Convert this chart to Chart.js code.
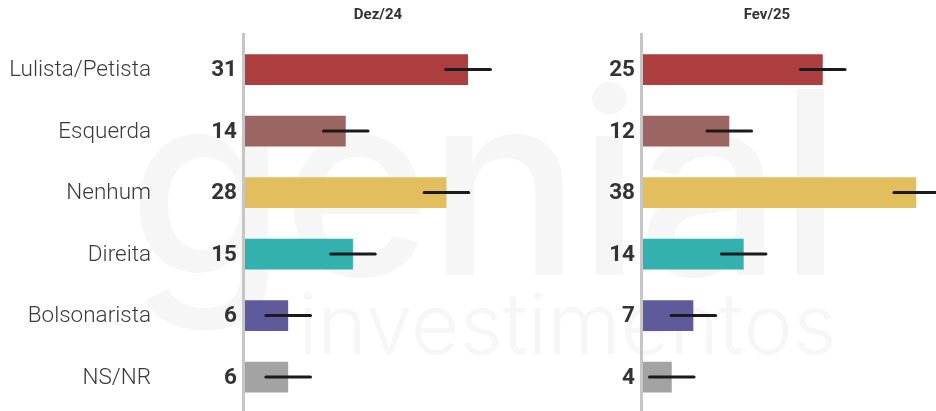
<!DOCTYPE html>
<html>
<head>
<meta charset="utf-8">
<script src="https://cdn.jsdelivr.net/npm/chart.js@4"></script>
<style>
  html, body { margin: 0; padding: 0; background: #fff; }
  #wrap { position: relative; width: 936px; height: 411px; overflow: hidden; }
  .wm { position: absolute; color: #f6f6f6; font-family: Inter, 'Open Sans', sans-serif; line-height: 1; white-space: nowrap; }
  #wm1 { left: 128px; top: 55px; font-size: 255px; font-weight: 500; letter-spacing: -4px; }
  #wm2 { left: 298px; top: 282px; font-size: 84px; font-weight: 300; }
  canvas { position: absolute; top: 0; }
  #left { left: 0; }
  #right { left: 540px; }
</style>
</head>
<body>
<div id="wrap">
  <div class="wm" id="wm1">genial</div>
  <div class="wm" id="wm2">investimentos</div>
  <canvas id="left" width="540" height="411"></canvas>
  <canvas id="right" width="396" height="411"></canvas>
</div>
<script>
const categories = ['Lulista/Petista', 'Esquerda', 'Nenhum', 'Direita', 'Bolsonarista', 'NS/NR'];
const dez24 = [31, 14, 28, 15, 6, 6];
const fev25 = [25, 12, 38, 14, 7, 4];
const margem = 3.1; // margem de erro, em pontos
const cores = ['#ac3e3f', '#9c6561', '#e3be5d', '#33b1af', '#5e5a9b', '#a3a3a3'];

// linha do eixo, categorias, rótulos de valor, barras de erro e título
const extras = {
  id: 'extras',
  beforeDatasetsDraw(chart) {
    const ctx = chart.ctx, a = chart.chartArea;
    ctx.save();
    ctx.strokeStyle = '#c6c6c6';
    ctx.lineWidth = 3;
    ctx.beginPath();
    ctx.moveTo(a.left - 1.5, 33);
    ctx.lineTo(a.left - 1.5, chart.height);
    ctx.stroke();
    ctx.restore();
  },
  afterDatasetsDraw(chart, args, opts) {
    const ctx = chart.ctx, a = chart.chartArea;
    const x = chart.scales.x, y = chart.scales.y;
    const meta = chart.getDatasetMeta(0);
    const vals = chart.data.datasets[0].data;
    ctx.save();
    meta.data.forEach((bar, i) => {
      const v = vals[i];
      ctx.strokeStyle = '#1b1b1b';
      ctx.lineWidth = 3;
      ctx.lineCap = 'round';
      ctx.beginPath();
      ctx.moveTo(x.getPixelForValue(v - margem), bar.y);
      ctx.lineTo(x.getPixelForValue(v + margem), bar.y);
      ctx.stroke();

      ctx.fillStyle = '#333';
      ctx.font = 'bold 22.5px Roboto';
      ctx.textAlign = 'right';
      ctx.textBaseline = 'middle';
      ctx.fillText(String(v), a.left - 8, bar.y + 1);

      if (opts.cats) {
        ctx.fillStyle = '#3a3a3a';
        ctx.font = '300 22.5px Roboto';
        ctx.fillText(chart.data.labels[i], 151, y.getPixelForValue(i) + 1);
      }
    });
    ctx.fillStyle = '#333';
    ctx.font = 'bold 15px Roboto';
    ctx.textAlign = 'center';
    ctx.textBaseline = 'middle';
    ctx.fillText(opts.text, a.left + opts.offset, 15);
    ctx.restore();
  }
};

function makeChart(id, values, title, titleOffset, showCats, axisWidth, xMax) {
  return new Chart(document.getElementById(id), {
    type: 'bar',
    data: {
      labels: categories,
      datasets: [{
        data: values,
        backgroundColor: cores,
        borderWidth: 0,
        barPercentage: 0.5,
        categoryPercentage: 1
      }]
    },
    options: {
      indexAxis: 'y',
      responsive: false,
      animation: false,
      layout: { padding: { top: 38.75, bottom: 3.25, left: 0, right: 0 } },
      scales: {
        x: { display: false, min: 0, max: xMax },
        y: {
          grid: { display: false, drawTicks: false },
          border: { display: false },
          ticks: { display: false },
          afterFit(scale) { scale.width = axisWidth; }
        }
      },
      plugins: {
        legend: { display: false },
        tooltip: { enabled: false },
        extras: { text: title, offset: titleOffset, cats: showCats }
      }
    },
    plugins: [extras]
  });
}

makeChart('left', dez24, 'Dez/24', 133, true, 245, 41.0);
makeChart('right', fev25, 'Fev/25', 124, false, 103, 40.75);
</script>
</body>
</html>
